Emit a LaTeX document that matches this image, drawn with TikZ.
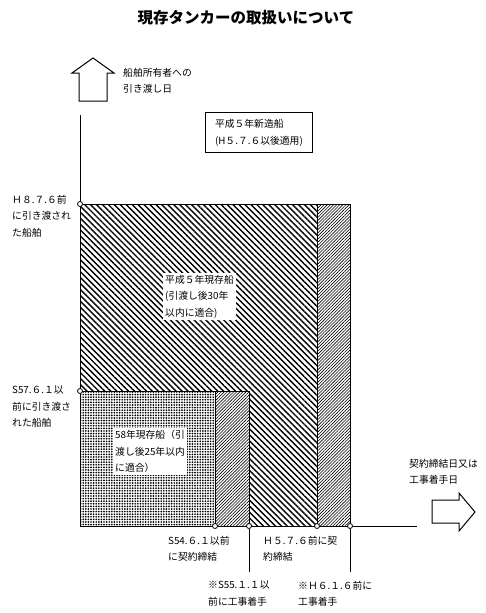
\documentclass[tikz,border=0pt]{standalone}
\usepackage{fontspec}
\newfontfamily\jp{Noto Sans CJK JP}
\usetikzlibrary{patterns.meta}
\tikzset{
  lbl/.style={font=\jp\fontsize{9.8}{16.5}\selectfont, align=left, anchor=north west, inner sep=0pt},
  wlbl/.style={lbl, fill=white, inner sep=2pt},
  ttl/.style={font=\jp\bfseries\fontsize{15.5}{18}\selectfont, inner sep=0pt},
  axis/.style={line width=1pt},
  edge/.style={line width=0.9pt},
  pt/.style={circle, draw, fill=white, inner sep=0pt, minimum size=5pt, line width=0.8pt},
  hatchA/.style={pattern={Lines[angle=-45,distance=4.2pt,line width=1.4pt]}},
  hatchB/.style={pattern={Lines[angle=45,distance=2.2pt,line width=0.6pt]}},
  dotsA/.style={pattern={Dots[distance=2.6pt,radius=0.95pt]}},
  blockarrow/.style={draw, line width=1pt, fill=white},
}
\begin{document}
\begin{tikzpicture}[x=1pt,y=-1pt]
\useasboundingbox (0,0) rectangle (485,613);

% title
\node[ttl] (title) at (246,18) {現存タンカーの取扱いについて};

% hatched regions
\fill[hatchA] (80,204) rectangle (317,526);
\fill[hatchB] (317,204) rectangle (350,526);
\fill[white] (80,391) rectangle (249,526);
\fill[dotsA] (80,391) rectangle (215,526);
\fill[hatchB] (215,391) rectangle (249,526);

% region outlines
\draw[edge] (80,204) -- (350,204) -- (350,526);
\draw[edge] (317,204) -- (317,526);
\draw[edge] (80,391) -- (249,391) -- (249,526);
\draw[edge] (215,391) -- (215,526);

% axes
\coordinate (ytop) at (80,115);
\coordinate (orig) at (80,526);
\coordinate (xend) at (417,526);
\draw[axis] (ytop) -- (orig) -- (xend);

% block arrows
\draw[blockarrow] (79,101) -- (79,73) -- (72,73) -- (93,58) -- (114,73) -- (107,73) -- (107,101) -- cycle;
\draw[blockarrow] (432,500) -- (459,500) -- (459,493) -- (475,512) -- (459,531) -- (459,523) -- (432,523) -- cycle;

% points
\node[pt] (pH8) at (80,204) {};
\node[pt] (pS57) at (80,391) {};
\node[pt] (pS54) at (215,526) {};
\node[pt] (pS55) at (249,526) {};
\node[pt] (pH5) at (317,526) {};
\node[pt] (pH6) at (350,526) {};
\coordinate (dS55) at (249,572);
\coordinate (dH6) at (350,572);
\draw[edge] (pS55) -- (dS55);
\draw[edge] (pH6) -- (dH6);

% labels
\node[lbl] (lowner) at (123,68) {船舶所有者への\\引き渡し日};
\node[draw, line width=0.9pt, font=\jp\fontsize{9.8}{17}\selectfont, align=left, anchor=north west,
      minimum width=107pt, minimum height=40pt, inner sep=0pt] (newbox) at (205,112)
      {平成５年新造船\\(H５.７.６以後適用)};
\node[lbl] (lH8) at (12,195) {Ｈ８.７.６前\\に引き渡され\\た船舶};
\node[lbl] (lS57) at (12,386) {S57.６.１以\\前に引き渡さ\\れた船舶};
\node[wlbl] (lH5ex) at (163,273) {平成５年現存船\\(引渡し後30年\\以内に適合)};
\node[wlbl] (lS58ex) at (113,428) {58年現存船（引\\渡し後25年以内\\に適合）};
\node[lbl] (lS54) at (168,536) {S54.６.１以前\\に契約締結};
\node[lbl] (lH5) at (263,536) {Ｈ５.７.６前に契\\約締結};
\node[lbl] (lS55) at (208,581) {※S55.１.１以\\前に工事着手};
\node[lbl] (lH6) at (298,581) {※Ｈ６.１.６前に\\工事着手};
\node[lbl] (lcon) at (409,459) {契約締結日又は\\工事着手日};
\end{tikzpicture}
\end{document}
